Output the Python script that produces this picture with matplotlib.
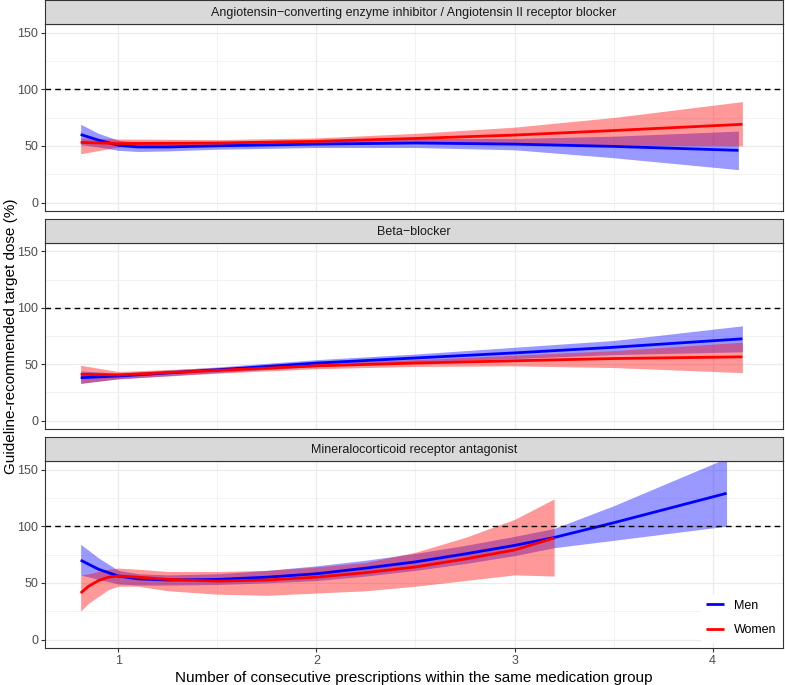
import numpy as np
import matplotlib.pyplot as plt
from matplotlib.ticker import MultipleLocator

plt.rcParams['font.family'] = ['Liberation Sans', 'DejaVu Sans']

# panel titles
panels = ['Angiotensin\u2212converting enzyme inhibitor / Angiotensin II receptor blocker',
          'Beta\u2212blocker',
          'Mineralocorticoid receptor antagonist']

# ACE/ARB
ace_men_x = [0.81, 0.9, 1.0, 1.1, 1.25, 1.5, 2.0, 2.5, 3.0, 3.5, 4.13]
ace_men_y = [60, 55, 50.5, 49, 49, 50, 51.5, 52.5, 51.5, 49.5, 46]
ace_men_lo = [51, 49, 46, 45, 45.5, 47, 48.5, 48.5, 46.5, 39.5, 29]
ace_men_hi = [69, 61, 55, 53, 52.5, 53, 55, 56.5, 56.5, 58.5, 63]
ace_wom_x = [0.81, 1.0, 1.5, 2.0, 2.5, 3.0, 3.5, 4.15]
ace_wom_y = [53, 52, 52.5, 54, 56.5, 59.5, 63.5, 69]
ace_wom_lo = [43, 49, 50, 51.5, 52, 51.5, 50.5, 50]
ace_wom_hi = [57, 56, 55.5, 57, 61, 66.5, 75, 89]

# Beta-blocker
bb_x = [0.81, 1.0, 1.5, 2.0, 2.5, 3.0, 3.5, 4.15]
bb_men_y = [38, 39.5, 45, 51, 55.5, 60, 65, 72.5]
bb_men_lo = [33, 37, 42.5, 48, 52, 55, 58.5, 61]
bb_men_hi = [44, 42, 47.5, 54, 59, 65, 71, 84]
bb_wom_y = [41, 40.5, 44.5, 48.5, 51, 53, 55, 56.5]
bb_wom_lo = [33, 37, 42, 46, 48, 48.5, 47, 42.5]
bb_wom_hi = [49, 43.5, 47, 51, 54, 58, 62, 69.5]

# MRA
mra_men_x = [0.81, 0.9, 1.0, 1.1, 1.25, 1.5, 1.75, 2.0, 2.25, 2.5, 2.75, 3.0, 3.2, 3.5, 4.07]
mra_men_y = [70, 62, 56, 53.5, 52.5, 53, 55, 58, 63, 68.5, 75.5, 83, 90, 103, 129]
mra_men_lo = [57, 53, 49, 48, 48, 48.5, 50, 52, 56, 61, 67, 74, 81, 87.5, 100]
mra_men_hi = [84, 72, 61, 58, 57, 58, 61, 65, 70, 76, 83, 91, 98, 118, 160]
mra_wom_x = [0.81, 0.85, 0.9, 0.95, 1.0, 1.1, 1.25, 1.5, 1.75, 2.0, 2.25, 2.5, 2.75, 3.0, 3.2]
mra_wom_y = [41, 47, 52, 55, 56, 55, 53, 51.5, 52.5, 55, 59, 64, 71, 79, 89.5]
mra_wom_lo = [25, 32, 38, 44, 47, 47, 43, 40, 39, 41, 43, 47, 52, 57, 56]
mra_wom_hi = [57, 58, 60, 62, 63, 62, 60, 60, 61, 64, 68, 77, 90, 106, 124]

data = [
    [(ace_men_x, ace_men_y, ace_men_lo, ace_men_hi), (ace_wom_x, ace_wom_y, ace_wom_lo, ace_wom_hi)],
    [(bb_x, bb_men_y, bb_men_lo, bb_men_hi), (bb_x, bb_wom_y, bb_wom_lo, bb_wom_hi)],
    [(mra_men_x, mra_men_y, mra_men_lo, mra_men_hi), (mra_wom_x, mra_wom_y, mra_wom_lo, mra_wom_hi)],
]
sexes = ['Men', 'Women']
colors = ['#0000FF', '#FF0000']

fig = plt.figure(figsize=(7.85, 6.85), dpi=100)
left, width = 45 / 785, 738 / 785
# pixel rows of (strip top, panel top, panel bottom)
rows = [(0, 24, 211), (219, 243, 429), (437, 461, 648)]
H = 685

for i, (st, pt, pb) in enumerate(rows):
    ax = fig.add_axes([left, 1 - pb / H, width, (pb - pt) / H])
    sax = fig.add_axes([left, 1 - pt / H, width, (pt - st) / H])
    sax.set_facecolor('#D9D9D9')
    sax.set_xticks([])
    sax.set_yticks([])
    for s in sax.spines.values():
        s.set_color('#333333')
        s.set_linewidth(0.8)
    sax.text(0.5, 0.45, panels[i], ha='center', va='center', fontsize=9, color='#1A1A1A',
             transform=sax.transAxes)

    for (x, y, lo, hi), lab, c in zip(data[i], sexes, colors):
        ax.fill_between(x, lo, hi, color=c, alpha=0.4, lw=0)
    for (x, y, lo, hi), lab, c in zip(data[i], sexes, colors):
        ax.plot(x, y, color=c, lw=2, label=lab, solid_capstyle='butt')

    ax.axhline(100, color='black', lw=1, ls=(0, (4, 3)))
    ax.set_xlim(0.63, 4.355)
    ax.set_ylim(-7.5, 157.5)
    ax.xaxis.set_major_locator(MultipleLocator(1))
    ax.xaxis.set_minor_locator(MultipleLocator(0.5))
    ax.yaxis.set_major_locator(MultipleLocator(50))
    ax.yaxis.set_minor_locator(MultipleLocator(25))
    ax.grid(True, which='major', color='#EBEBEB', lw=0.9)
    ax.grid(True, which='minor', color='#EBEBEB', lw=0.45)
    ax.set_axisbelow(True)
    ax.tick_params(which='minor', length=0)
    ax.tick_params(which='major', direction='out', length=3, width=0.8, color='#333333',
                   labelsize=9, labelcolor='#4D4D4D', pad=2)
    for s in ax.spines.values():
        s.set_color('#333333')
        s.set_linewidth(0.8)
    if i < 2:
        ax.tick_params(axis='x', which='both', length=0, labelbottom=False)
    else:
        ax.set_xlabel('Number of consecutive prescriptions within the same medication group',
                      fontsize=11, color='black', labelpad=3)
        leg = ax.legend(loc='lower right', bbox_to_anchor=(1.006, 0.003), frameon=True,
                        fontsize=9, handlelength=1.45, labelspacing=1.0, borderpad=0.4)
        leg.get_frame().set_edgecolor('white')
        leg.get_frame().set_facecolor('white')
        leg.get_frame().set_alpha(1)

fig.text(0.014, 1 - 336 / H, 'Guideline-recommended target dose (%)', rotation=90,
         ha='center', va='center', fontsize=11)

fig.savefig('out.png', dpi=100)
